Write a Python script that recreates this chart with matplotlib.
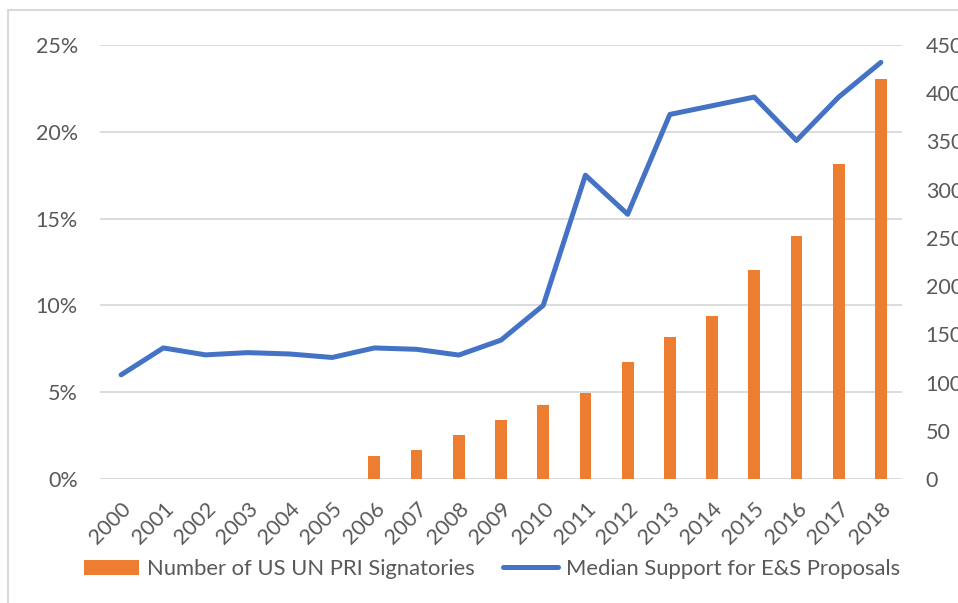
"""
Median support for E&S proposals vs number of US UN PRI signatories
"""
import matplotlib
matplotlib.use("Agg")
import matplotlib.pyplot as plt
from matplotlib.patches import Patch, Rectangle
from matplotlib.lines import Line2D
from matplotlib.ticker import FuncFormatter

years = [str(y) for y in range(2000, 2019)]
# median support, percent (left axis)
median_support = [6.0, 7.55, 7.15, 7.28, 7.2, 7.0, 7.55, 7.47, 7.14, 8.0,
                  10.0, 17.5, 15.25, 21.0, 21.5, 22.0, 19.5, 22.0, 24.0]
# number of signatories (right axis); none before 2006
signatories = [0, 0, 0, 0, 0, 0, 24, 30, 46, 61,
               77, 89, 121, 147, 169, 217, 252, 327, 415]

BLUE = "#4472C4"
ORANGE = "#ED7D31"
GRID = "#D9D9D9"
TEXT = "#595959"
FS = 15.5

plt.rcParams["font.family"] = ["Lato", "DejaVu Sans"]

fig = plt.figure(figsize=(9.58, 6.03), dpi=100)
W, H = 958, 603
ax = fig.add_axes([100 / W, 1 - 479 / H, 802 / W, 434 / H])
ax2 = ax.twinx()

x = list(range(len(years)))
ax2.bar(x, signatories, width=0.28, color=ORANGE, zorder=2)
ax.plot(x, median_support, color=BLUE, linewidth=3.6,
        solid_capstyle="round", solid_joinstyle="round", zorder=3)

# keep the line above the bars
ax.set_zorder(ax2.get_zorder() + 1)
ax.patch.set_visible(False)

ax.set_xlim(-0.5, len(years) - 0.5)
ax.set_ylim(0, 25)
ax2.set_ylim(0, 450)
ax.set_yticks(range(0, 26, 5))
ax2.set_yticks(range(0, 451, 50))
ax.yaxis.set_major_formatter(FuncFormatter(lambda v, _: f"{v:.0f}%"))

# gridlines follow the percent ticks, drawn under the bars
for v in range(0, 26, 5):
    ax2.axhline(v * 18, color=GRID, linewidth=1.3, zorder=0)

ax.set_xticks(x)
ax.set_xticklabels(years, rotation=45, ha="right", rotation_mode="anchor")

for a in (ax, ax2):
    for s in a.spines.values():
        s.set_visible(False)
    a.tick_params(length=0, labelsize=FS, labelcolor=TEXT)
ax.tick_params(axis="y", pad=16)
ax2.tick_params(axis="y", pad=17)
ax.tick_params(axis="x", pad=14)

# chart frame
fig.patches.append(Rectangle((8 / W, -0.1), 1.2, 1 - 10 / H + 0.1,
                             transform=fig.transFigure, fill=False,
                             edgecolor=GRID, linewidth=1.5))

handles = [Patch(facecolor=ORANGE, edgecolor="none"),
           Line2D([0], [0], color=BLUE, linewidth=3.6, solid_capstyle="round")]
labels = ["Number of US UN PRI Signatories", "Median Support for E&S Proposals"]
leg = fig.legend(handles, labels, loc="center", ncol=2,
                 bbox_to_anchor=(492 / W, 1 - 569 / H), frameon=False,
                 fontsize=15.8, handlelength=2.5, handletextpad=0.35,
                 columnspacing=1.3)
for t in leg.get_texts():
    t.set_color(TEXT)

fig.savefig("out.png", dpi=100)
